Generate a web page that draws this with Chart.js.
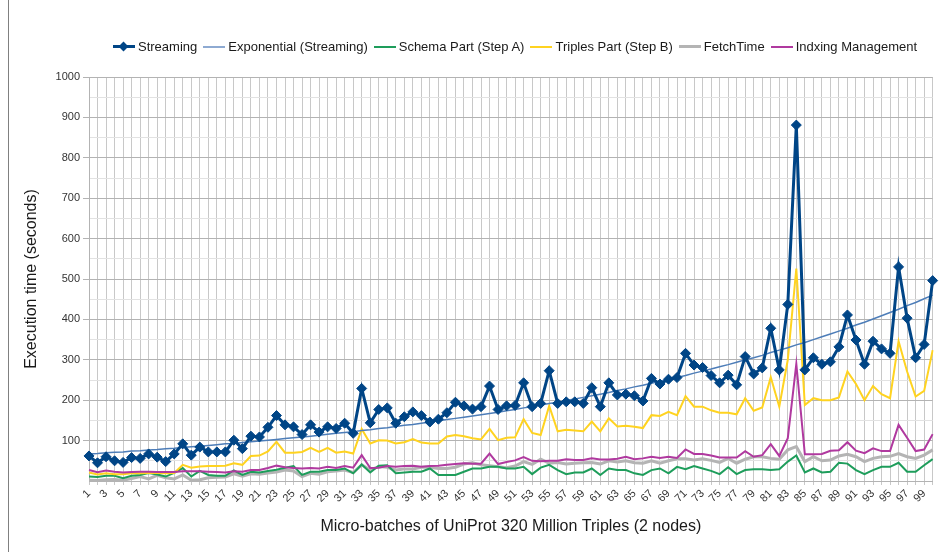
<!DOCTYPE html>
<html><head><meta charset="utf-8">
<script src="https://cdn.jsdelivr.net/npm/chart.js@4/dist/chart.umd.min.js"></script>
<style>
html,body{margin:0;padding:0;background:#fff;}
#wrap{position:relative;width:944px;height:552px;overflow:hidden;background:#fff;}
#frame{position:absolute;left:8px;top:0;width:0;height:552px;border-left:1px solid #808080;}
#legend{position:absolute;top:39px;left:113px;display:flex;align-items:center;font:13px "Liberation Sans",Arial,sans-serif;color:#1a1a1a;white-space:nowrap;}
.item{display:flex;align-items:center;margin-right:6px;}
.sw{position:relative;width:22px;margin-right:3px;}
.dia{position:absolute;left:7px;top:-3.5px;width:7px;height:7px;transform:rotate(45deg);}
canvas{position:absolute;left:0;top:0;}
</style></head>
<body>
<div id="wrap">
<canvas id="c" width="944" height="552"></canvas>
<div id="frame"></div>
<div id="legend"></div>
</div>
<script>
const categories = ["1","2","3","4","5","6","7","8","9","10","11","12","13","14","15","16","17","18","19","20","21","22","23","24","25","26","27","28","29","30","31","32","33","34","35","36","37","38","39","40","41","42","43","44","45","46","47","48","49","50","51","52","53","54","55","56","57","58","59","60","61","62","63","64","65","66","67","68","69","70","71","72","73","74","75","76","77","78","79","80","81","82","83","84","85","86","87","88","89","90","91","92","93","94","95","96","97","98","99","100"];

const streaming = [62,45,60,50,46,58,56,67,59,48,67,92,64,84,72,72,72,101,80,111,109,133,162,139,134,115,139,121,134,130,143,118,229,144,177,181,143,159,171,162,146,153,169,195,186,178,184,235,177,186,187,243,184,192,273,192,196,196,192,231,184,243,213,215,211,198,254,240,252,256,316,287,281,261,243,262,238,308,265,280,378,275,437,881,275,305,289,295,332,411,349,289,346,327,316,530,403,305,338,496];

const expStreaming = [67,68,70,71,72,74,75,77,78,80,81,83,85,86,88,90,92,93,95,97,99,101,103,105,107,109,111,113,116,118,120,122,125,127,130,132,135,138,140,143,146,149,152,155,158,161,164,167,170,174,177,181,184,188,192,195,199,203,207,211,215,219,224,228,233,237,242,247,251,256,261,267,272,277,283,288,294,300,305,311,318,324,330,337,343,350,357,364,371,378,386,393,401,409,417,425,434,442,451,460];

const schemaA = [11,10,13,13,7,13,15,20,16,11,20,32,11,25,15,13,13,26,15,23,21,25,28,33,37,15,23,23,27,27,31,19,41,21,38,39,19,21,23,23,31,15,15,15,23,31,31,35,35,31,31,35,17,33,40,27,17,21,21,31,15,31,27,27,19,15,27,31,19,35,29,37,31,25,17,34,17,27,29,29,27,29,48,63,21,31,21,23,45,43,27,17,27,35,35,45,23,23,39,54];

const triplesB = [21,16,19,17,17,19,19,20,20,19,20,40,33,36,37,37,38,44,40,62,63,73,97,70,70,72,82,72,82,70,73,68,129,93,101,100,93,96,104,95,93,93,110,114,111,106,103,129,101,107,108,153,119,114,186,123,127,125,123,147,123,155,135,137,134,131,163,161,171,163,210,184,184,175,169,169,165,205,174,182,257,184,300,526,188,205,200,200,207,271,240,200,235,215,205,346,271,209,223,324];

const fetchTime = [2,1,3,4,2,6,11,5,14,8,5,15,2,3,8,9,10,18,12,18,17,20,22,27,25,11,19,17,23,25,27,21,40,27,36,34,27,30,30,34,34,31,31,34,42,45,40,38,35,33,37,48,41,54,44,46,42,44,45,46,42,50,47,50,45,44,50,44,50,55,55,52,55,51,46,56,44,54,60,60,56,54,77,85,48,60,50,52,62,66,60,48,56,60,61,68,60,56,64,77];

const indexing = [27,22,26,23,21,22,23,23,22,22,22,24,24,24,23,22,21,24,23,27,27,32,38,34,32,31,32,31,35,32,37,33,64,32,33,37,35,37,38,35,37,38,40,42,44,43,43,68,42,47,51,59,50,49,50,50,54,52,52,56,53,53,55,60,54,56,60,57,60,57,78,67,67,63,58,58,58,74,60,64,91,62,106,290,66,66,67,75,76,96,75,69,81,74,74,139,107,74,78,116];

const yTickLabels = [100,200,300,400,500,600,700,800,900,1000];

const seriesNames = ["Streaming","Exponential (Streaming)","Schema Part (Step A)","Triples Part (Step B)","FetchTime","Indxing Management"];
const seriesColors = ["#004586","#4d7db8","#1e9d5b","#ffd320","#b4b4b4","#b0399f"];
const legendColors = ["#004586","#8eaad2","#1e9d5b","#ffd320","#b4b4b4","#b0399f"];

Chart.defaults.font.family = '"Liberation Sans", Arial, sans-serif';

const ctx = document.getElementById('c').getContext('2d');
new Chart(ctx, {
  type: 'line',
  data: {
    labels: categories,
    datasets: [
      {label: seriesNames[0], data: streaming, borderColor: seriesColors[0], backgroundColor: seriesColors[0], borderWidth: 3, pointStyle: 'rectRot', pointRadius: 5, pointBorderWidth: 1, tension: 0, order: 0},
      {label: seriesNames[1], data: expStreaming, borderColor: seriesColors[1], borderWidth: 1.5, pointRadius: 0, tension: 0, order: 1},
      {label: seriesNames[2], data: schemaA, borderColor: seriesColors[2], borderWidth: 2, pointRadius: 0, tension: 0, order: 4},
      {label: seriesNames[3], data: triplesB, borderColor: seriesColors[3], borderWidth: 2, pointRadius: 0, tension: 0, order: 3},
      {label: seriesNames[4], data: fetchTime, borderColor: seriesColors[4], borderWidth: 3, pointRadius: 0, tension: 0, order: 5},
      {label: seriesNames[5], data: indexing, borderColor: seriesColors[5], borderWidth: 2, pointRadius: 0, tension: 0, order: 2}
    ]
  },
  options: {
    responsive: false,
    animation: false,
    plugins: {legend: {display: false}, tooltip: {enabled: false}},
    layout: {padding: {left: 10, right: 11, top: 77, bottom: 0}},
    scales: {
      x: {
        offset: false,
        grid: {color: '#c8c8c8', lineWidth: 1, tickLength: 4, tickColor: '#c8c8c8'},
        border: {color: '#b3b3b3'},
        ticks: {autoSkip: false, minRotation: 45, maxRotation: 45, padding: 2, color: '#333', font: {size: 11},
          callback: (v, i) => (i % 2 === 0 ? categories[i] : '')},
        title: {display: true, text: 'Micro-batches of UniProt 320 Million Triples (2 nodes)', color: '#1a1a1a', font: {size: 16}, padding: {top: 0, bottom: 15.4}},
        afterFit: s => { s.height = 71; }
      },
      y: {
        min: 0, max: 1000,
        grid: {
          color: c => (c.tick && c.tick.value % 100 === 0 ? '#b3b3b3' : '#e2e2e2'),
          tickColor: c => (c.tick && c.tick.value % 100 === 0 && c.tick.value > 0 ? '#b3b3b3' : 'rgba(0,0,0,0)'),
          tickLength: 6
        },
        border: {color: '#b3b3b3'},
        ticks: {stepSize: 50, padding: 3, color: '#333', font: {size: 11},
          callback: v => (yTickLabels.includes(v) ? String(v) : '')},
        title: {display: true, text: 'Execution time (seconds)', color: '#1a1a1a', font: {size: 16}, padding: {top: 12.4, bottom: 0}},
        afterFit: s => { s.width = 79; }
      }
    }
  }
});

// legend
const lg = document.getElementById('legend');
seriesNames.forEach((name, i) => {
  const it = document.createElement('div');
  it.className = 'item';
  const sw = document.createElement('div');
  sw.className = 'sw';
  const h = i === 0 ? 3 : (i === 4 ? 3 : 2);
  sw.style.height = h + 'px';
  sw.style.background = legendColors[i];
  if (i === 0) {
    const d = document.createElement('div');
    d.className = 'dia';
    d.style.background = legendColors[0];
    d.style.top = (-(7 - h) / 2) + 'px';
    sw.appendChild(d);
  }
  const t = document.createElement('span');
  t.textContent = name;
  it.appendChild(sw);
  it.appendChild(t);
  lg.appendChild(it);
});
</script>
</body></html>
